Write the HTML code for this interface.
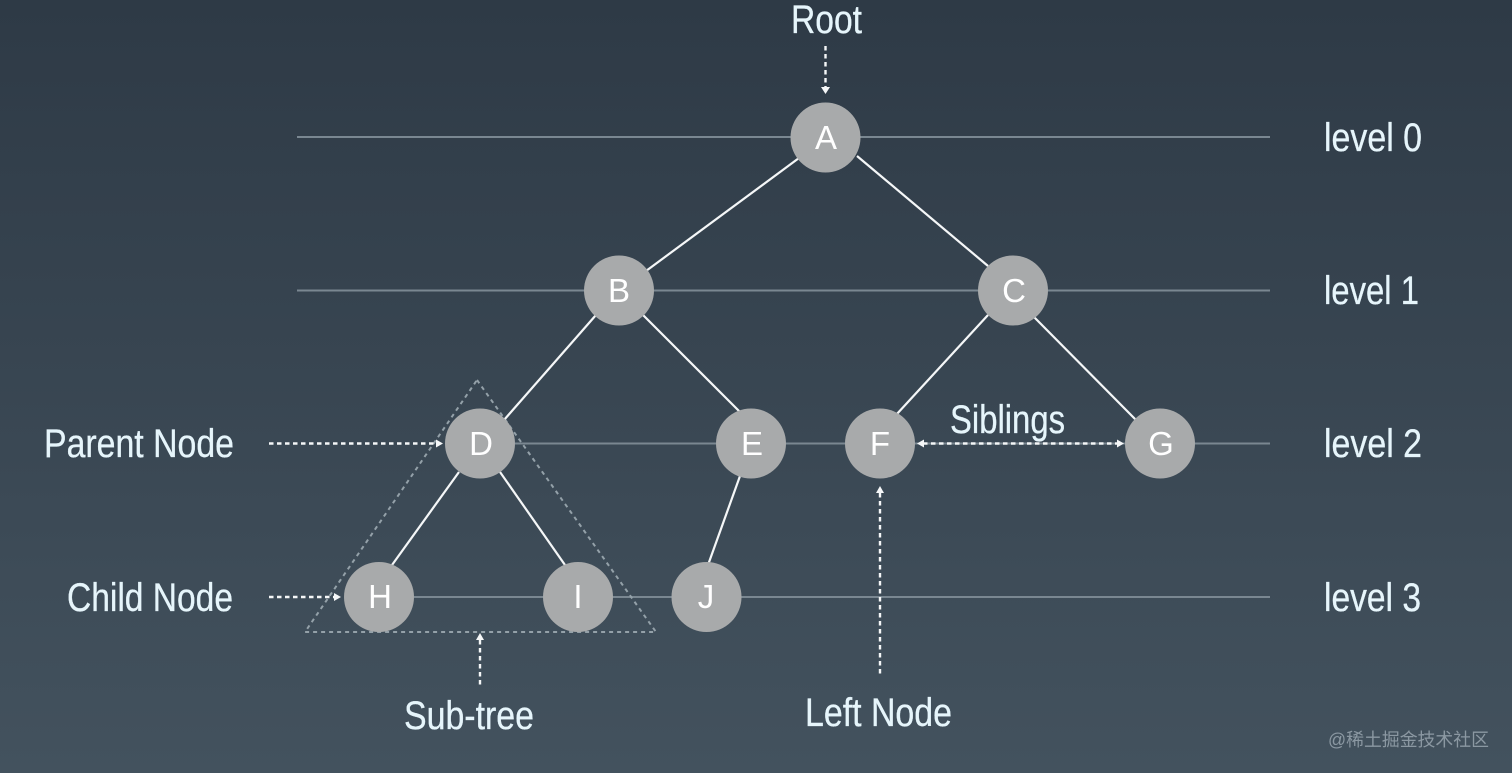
<!DOCTYPE html>
<html><head><meta charset="utf-8"><style>
html,body{margin:0;padding:0;width:1512px;height:773px;overflow:hidden;background:#3a4855}
svg{display:block}
text{font-family:"Liberation Sans","Noto Sans CJK SC",sans-serif}
.t{font-size:40px;fill:#e6f5fb;stroke:#e6f5fb;stroke-width:.3}
.n{font-size:33px;fill:#fff;text-anchor:middle}
</style></head><body>
<svg width="1512" height="773" viewBox="0 0 1512 773" xmlns="http://www.w3.org/2000/svg">
<defs><linearGradient id="bg" x1="0" y1="0" x2="0" y2="1"><stop offset="0" stop-color="#2e3a46"/><stop offset="1" stop-color="#43525e"/></linearGradient></defs>
<rect width="1512" height="773" fill="url(#bg)"/>
<g stroke="#7a8791" stroke-width="2" fill="none">
<line x1="297" y1="137" x2="1270" y2="137"/>
<line x1="297" y1="290.500" x2="1270" y2="290.500"/>
<line x1="515" y1="443.500" x2="1270" y2="443.500"/>
<line x1="414" y1="597" x2="1270" y2="597"/>
</g>
<path d="M477 380 L656 632 L305 632 Z" fill="none" stroke="#94a1a9" stroke-width="2" stroke-dasharray="4 4"/>
<g stroke="#f5f7f8" stroke-width="2.200" fill="none">
<line x1="799" y1="158" x2="646" y2="271"/>
<line x1="857" y1="156" x2="988" y2="266"/>
<line x1="596" y1="315" x2="504" y2="420"/>
<line x1="642" y1="314" x2="741" y2="413"/>
<line x1="988" y1="315" x2="896" y2="415"/>
<line x1="1034" y1="317" x2="1136" y2="420"/>
<line x1="459" y1="472" x2="392" y2="565"/>
<line x1="500" y1="472" x2="565" y2="565"/>
<line x1="740" y1="476" x2="708" y2="565"/>
</g>
<g stroke="#f5f7f8" stroke-width="2.400" fill="none" stroke-dasharray="4.500 3.500">
<line x1="825.500" y1="46" x2="825.500" y2="87"/>
<line x1="269" y1="443.500" x2="436" y2="443.500"/>
<line x1="269" y1="597" x2="334" y2="597"/>
<line x1="480" y1="640" x2="480" y2="686"/>
<line x1="880" y1="493" x2="880" y2="676"/>
<line x1="923" y1="443.500" x2="1118" y2="443.500"/>
</g>
<g fill="#f5f7f8">
<path d="M821 87 L830 87 L825.500 94 Z"/>
<path d="M436 439.500 L443 443.500 L436 447.500 Z"/>
<path d="M334 593 L341 597 L334 601 Z"/>
<path d="M476 640 L484 640 L480 633 Z"/>
<path d="M876 493 L884 493 L880 486 Z"/>
<path d="M924 439.500 L917 443.500 L924 447.500 Z"/>
<path d="M1117 439.500 L1124 443.500 L1117 447.500 Z"/>
</g>
<g fill="#a8aaab">
<circle cx="825.500" cy="137.500" r="35"/>
<circle cx="619" cy="290.500" r="35"/>
<circle cx="1013" cy="290.500" r="35"/>
<circle cx="480" cy="443.500" r="35"/>
<circle cx="751" cy="443.500" r="35"/>
<circle cx="880" cy="443.500" r="35"/>
<circle cx="1160" cy="443.500" r="35"/>
<circle cx="379" cy="597" r="35"/>
<circle cx="578" cy="597" r="35"/>
<circle cx="706.500" cy="597" r="35"/>
</g>
<text class="n" x="826" y="149">A</text>
<text class="n" x="619" y="302">B</text>
<text class="n" x="1014" y="302">C</text>
<text class="n" x="481" y="455">D</text>
<text class="n" x="752" y="455">E</text>
<text class="n" x="880" y="455">F</text>
<text class="n" x="1161" y="455">G</text>
<text class="n" x="380" y="608">H</text>
<text class="n" x="578" y="608">I</text>
<text class="n" x="706" y="608">J</text>
<text class="t" x="791" y="33" textLength="71" lengthAdjust="spacingAndGlyphs">Root</text>
<text class="t" x="1324" y="151" textLength="98" lengthAdjust="spacingAndGlyphs">level 0</text>
<text class="t" x="1324" y="304" textLength="95" lengthAdjust="spacingAndGlyphs">level 1</text>
<text class="t" x="1324" y="457" textLength="98" lengthAdjust="spacingAndGlyphs">level 2</text>
<text class="t" x="1324" y="611" textLength="97" lengthAdjust="spacingAndGlyphs">level 3</text>
<text class="t" x="44" y="457" textLength="190" lengthAdjust="spacingAndGlyphs">Parent Node</text>
<text class="t" x="67" y="611" textLength="166" lengthAdjust="spacingAndGlyphs">Child Node</text>
<text class="t" x="950" y="433" textLength="115" lengthAdjust="spacingAndGlyphs">Siblings</text>
<text class="t" x="404" y="729" textLength="130" lengthAdjust="spacingAndGlyphs">Sub-tree</text>
<text class="t" x="805" y="726" textLength="147" lengthAdjust="spacingAndGlyphs">Left Node</text>
<text x="1328" y="746" font-size="18" fill="#8b98a2" textLength="161" lengthAdjust="spacingAndGlyphs">@稀土掘金技术社区</text>
</svg>
</body></html>
